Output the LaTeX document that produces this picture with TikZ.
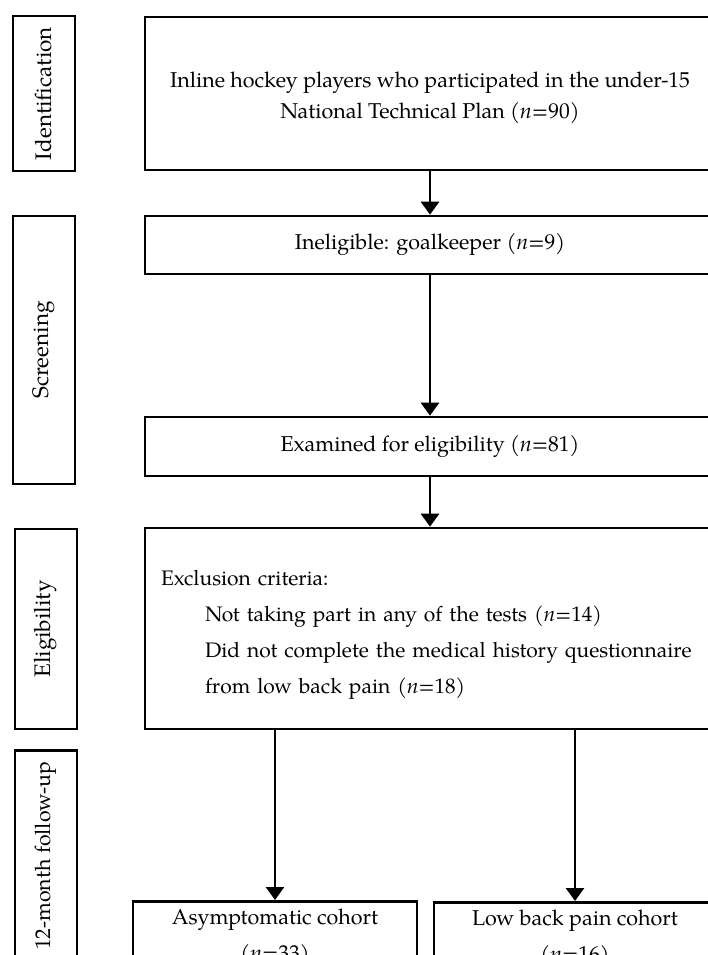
\documentclass[tikz,border=0pt]{standalone}
\usepackage{fontspec}
\setmainfont{TeX Gyre Pagella}
\usetikzlibrary{arrows.meta}
\begin{document}
\begin{tikzpicture}[x=1pt,y=-1pt,
  box/.style={draw, line width=2.6pt, rectangle, inner sep=0pt,
    font=\fontsize{21.5}{31}\selectfont, align=center},
  lab/.style={box, rotate=90, font=\fontsize{22.5}{28}\selectfont},
  arr/.style={line width=2.6pt, -{Triangle[width=18pt,length=13pt]}}]
\useasboundingbox (0,0) rectangle (708,955);
\clip (0,0) rectangle (708,955);
% stage labels
\node[lab, minimum width=155pt, minimum height=62pt] (lid) at (44,93.5) {Identification};
\node[lab, minimum width=268pt, minimum height=62pt] (lscr) at (44,350) {Screening};
\node[lab, minimum width=200pt, minimum height=62pt] (lel) at (46,629) {Eligibility};
\node[lab, minimum width=211pt, minimum height=62pt, font=\fontsize{21.3}{28}\selectfont] (lfu) at (46,856) {12-month follow-up};
% flow boxes
\node[box, minimum width=570pt, minimum height=153pt] (b1) at (430,93.5)
  {\rule{0pt}{25pt}Inline hockey players who participated in the under-15\\National Technical Plan (\textit{n}=90)};
\node[box, minimum width=570pt, minimum height=58pt] (b2) at (430,245)
  {Ineligible: goalkeeper (\textit{n}=9)};
\node[box, minimum width=570pt, minimum height=59pt] (b3) at (430,446.5)
  {Examined for eligibility (\textit{n}=81)};
\node[box, minimum width=570pt, minimum height=201pt, text width=538pt, align=left,
  font=\fontsize{21}{36}\selectfont] (b4) at (430,628.5)
  {\rule{0pt}{27pt}Exclusion criteria:\\
   \hspace*{44pt}\mbox{Not taking part in any of the tests (\textit{n}=14)}\\
   \hspace*{44pt}\mbox{Did not complete the medical history questionnaire}\\
   \hspace*{44pt}\mbox{from low back pain (\textit{n}=18)}};
\node[box, anchor=north, minimum width=284pt, minimum height=72pt,
  font=\fontsize{21.5}{36}\selectfont] (ca) at (275,900)
  {Asymptomatic cohort\\(\textit{n}=33)};
\node[box, anchor=north, minimum width=282pt, minimum height=72pt,
  font=\fontsize{21.5}{36}\selectfont] (cb) at (575,901)
  {Low back pain cohort\\(\textit{n}=16)};
% connectors
\draw[arr] (b1.south) -- (b2.north);
\draw[arr] (b2.south) -- (b3.north);
\draw[arr] (b3.south) -- (b4.north);
\draw[arr] (ca.north |- b4.south) -- (ca.north);
\draw[arr] (cb.north |- b4.south) -- (cb.north);
\end{tikzpicture}
\end{document}
